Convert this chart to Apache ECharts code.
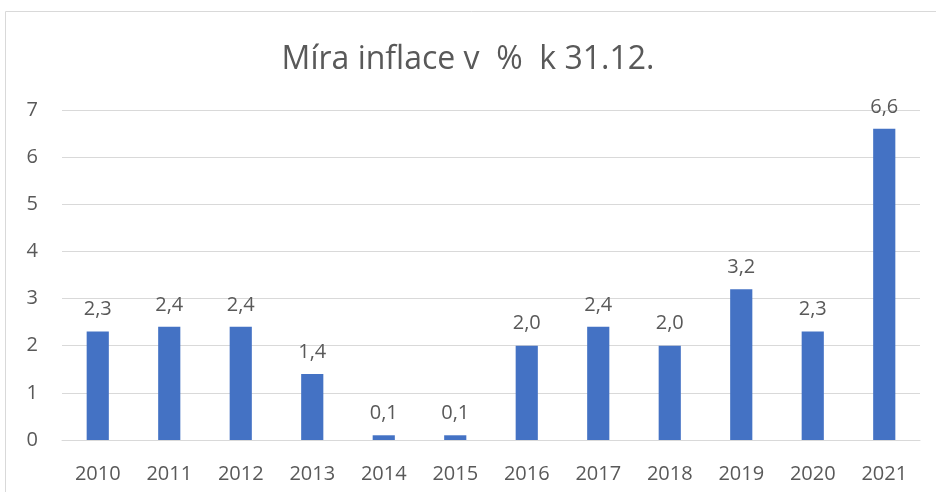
<!DOCTYPE html>
<html>
<head>
<meta charset="utf-8">
<script src="https://cdn.jsdelivr.net/npm/echarts@6/dist/echarts.min.js"></script>
<style>
  html, body { margin: 0; padding: 0; background: #fff; }
  #chart { width: 936px; height: 492px; }
</style>
</head>
<body>
<div id="chart"></div>
<script>
var years = ['2010', '2011', '2012', '2013', '2014', '2015', '2016', '2017', '2018', '2019', '2020', '2021'];
var inflation = [2.3, 2.4, 2.4, 1.4, 0.1, 0.1, 2.0, 2.4, 2.0, 3.2, 2.3, 6.6];
var yTicks = [0, 1, 2, 3, 4, 5, 6, 7];

var textColor = '#595959';
var font = '"Open Sans", "Noto Sans", sans-serif';

var chart = echarts.init(document.getElementById('chart'));

chart.setOption({
    animation: false,
    title: {
        text: 'Míra inflace v  %  k 31.12.',
        left: 'center',
        top: 39,
        textStyle: {
            color: textColor,
            fontFamily: font,
            fontWeight: 'normal',
            fontSize: 32
        }
    },
    graphic: [
        {
            type: 'rect',
            shape: { x: 5.5, y: 11.5, width: 960, height: 520 },
            style: { fill: 'none', stroke: '#d9d9d9', lineWidth: 1 },
            silent: true
        }
    ],
    grid: {
        left: 62,
        right: 16,
        top: 110,
        bottom: 52
    },
    xAxis: {
        type: 'category',
        data: years,
        axisLine: { lineStyle: { color: '#d9d9d9', width: 1 } },
        axisTick: { show: false },
        axisLabel: {
            color: textColor,
            fontFamily: font,
            fontSize: 20,
            margin: 24
        }
    },
    yAxis: {
        type: 'value',
        min: yTicks[0],
        max: yTicks[yTicks.length - 1],
        interval: 1,
        axisLine: { show: false },
        axisTick: { show: false },
        splitLine: { lineStyle: { color: '#d9d9d9', width: 1 } },
        axisLabel: {
            color: textColor,
            fontFamily: font,
            fontSize: 20,
            margin: 24
        }
    },
    series: [
        {
            type: 'bar',
            data: inflation,
            barWidth: '31%',
            itemStyle: { color: '#4472c4' },
            label: {
                show: true,
                position: 'top',
                distance: 12,
                color: textColor,
                fontFamily: font,
                fontSize: 20,
                formatter: function (p) {
                    return p.value.toFixed(1).replace('.', ',');
                }
            }
        }
    ]
});
</script>
</body>
</html>
